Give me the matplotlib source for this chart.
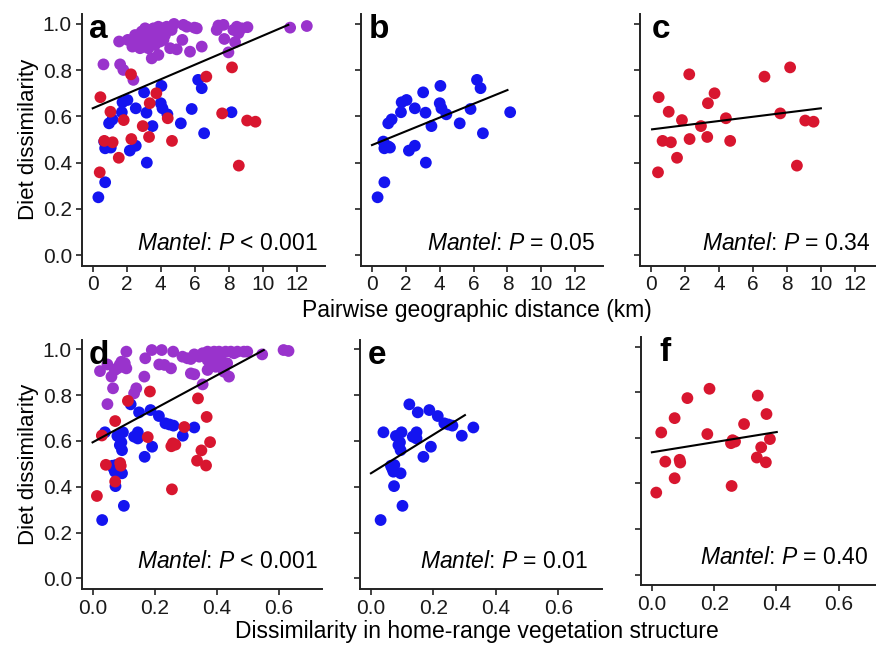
import matplotlib
matplotlib.use("Agg")
import matplotlib.pyplot as plt
import numpy as np

plt.rcParams['font.family'] = ['Liberation Sans', 'DejaVu Sans']
plt.rcParams['mathtext.fontset'] = 'custom'
plt.rcParams['mathtext.rm'] = 'Liberation Sans'
plt.rcParams['mathtext.it'] = 'Liberation Sans:italic'

PURPLE = '#9933cc'
BLUE = '#1414f0'
RED = '#d8162f'

# ---------------- geographic distance (km) ----------------
geo_blue_x = [0.33, 0.73, 0.73, 0.67, 1.06, 0.96, 1.16, 1.71, 1.75, 2.04, 2.53, 3.02, 3.16, 2.18,
              2.53, 3.18, 3.51, 4.04, 4.00, 4.10, 4.39, 5.18, 5.82, 6.20, 6.41, 6.55, 8.16, 0.96]
geo_blue_y = [0.250, 0.315, 0.462, 0.491, 0.465, 0.570, 0.587, 0.618, 0.661, 0.671, 0.635, 0.704,
              0.616, 0.452, 0.473, 0.400, 0.558, 0.732, 0.657, 0.635, 0.609, 0.570, 0.632, 0.758,
              0.722, 0.527, 0.618, 0.470]
geo_red_x = [0.45, 2.25, 1.04, 1.82, 3.35, 3.74, 0.68, 1.17, 2.27, 2.94, 3.31, 1.53, 0.41, 4.41,
             4.66, 6.68, 7.61, 8.19, 9.08, 9.57, 8.59]
geo_red_y = [0.683, 0.782, 0.620, 0.584, 0.657, 0.700, 0.494, 0.488, 0.502, 0.558, 0.511, 0.421,
             0.358, 0.592, 0.494, 0.772, 0.613, 0.812, 0.582, 0.577, 0.387]
geo_purple_x = [2.88, 3.27, 3.57, 3.86, 4.06, 4.35, 4.78, 5.33, 5.53, 5.98, 6.12, 7.39, 7.69, 8.47,
                8.76, 9.10, 2.49, 2.68, 3.08, 3.37, 3.66, 3.96, 4.25, 1.55, 2.06, 2.33, 2.59, 2.98,
                3.27, 3.66, 3.96, 4.55, 4.94, 5.27, 5.72, 6.41, 7.74, 8.37, 8.27, 7.98, 3.47, 3.86,
                0.63, 1.61, 1.80, 2.39, 11.61, 12.59, 3.08, 4.64, 2.78, 4.16, 3.18, 2.49, 3.76,
                7.29, 8.57, 2.29]
geo_purple_y = [0.967, 0.974, 0.981, 0.988, 0.981, 0.988, 1.000, 0.996, 0.988, 0.984, 0.981, 0.993,
                0.996, 0.988, 0.981, 0.986, 0.952, 0.935, 0.945, 0.926, 0.941, 0.960, 0.952, 0.924,
                0.931, 0.902, 0.916, 0.902, 0.895, 0.909, 0.924, 0.895, 0.890, 0.931, 0.880, 0.902,
                0.935, 0.921, 0.974, 0.877, 0.851, 0.866, 0.825, 0.825, 0.801, 0.758, 0.984, 0.991,
                0.981, 0.974, 0.895, 0.931, 0.916, 0.926, 0.970, 0.974, 0.960, 0.926]

# ---------------- vegetation structure dissimilarity ----------------
veg_blue_x = [0.031, 0.101, 0.074, 0.068, 0.075, 0.072, 0.095, 0.040, 0.080, 0.098, 0.093, 0.095,
              0.134, 0.146, 0.146, 0.168, 0.192, 0.123, 0.150, 0.187, 0.214, 0.235, 0.261, 0.291,
              0.328, 0.088, 0.064, 0.248]
veg_blue_y = [0.255, 0.317, 0.403, 0.480, 0.495, 0.466, 0.459, 0.638, 0.622, 0.638, 0.594, 0.560,
              0.619, 0.638, 0.611, 0.531, 0.575, 0.760, 0.725, 0.735, 0.709, 0.677, 0.667, 0.623,
              0.659, 0.582, 0.492, 0.672]
veg_red_x = [0.014, 0.030, 0.043, 0.073, 0.073, 0.089, 0.091, 0.114, 0.178, 0.185, 0.256, 0.254,
             0.267, 0.296, 0.337, 0.340, 0.351, 0.368, 0.366, 0.379, 0.259]
veg_red_y = [0.360, 0.624, 0.496, 0.423, 0.687, 0.504, 0.492, 0.775, 0.617, 0.816, 0.389, 0.577,
             0.584, 0.661, 0.514, 0.786, 0.559, 0.705, 0.493, 0.595, 0.590]
veg_purple_x = [0.024, 0.048, 0.061, 0.080, 0.087, 0.098, 0.109, 0.109, 0.066, 0.048, 0.134, 0.141,
                0.167, 0.170, 0.191, 0.223, 0.215, 0.232, 0.253, 0.260, 0.290, 0.306, 0.317, 0.317,
                0.328, 0.344, 0.355, 0.355, 0.371, 0.371, 0.382, 0.392, 0.397, 0.408, 0.413, 0.418,
                0.429, 0.434, 0.440, 0.446, 0.467, 0.488, 0.499, 0.547, 0.616, 0.632, 0.072, 0.093,
                0.371, 0.392, 0.104, 0.397, 0.424, 0.456, 0.328]
veg_purple_y = [0.905, 0.934, 0.881, 0.917, 0.932, 0.924, 0.917, 0.990, 0.830, 0.761, 0.808, 0.830,
                0.881, 0.961, 0.997, 0.997, 0.934, 0.932, 0.917, 0.990, 0.968, 0.961, 0.958, 0.895,
                0.891, 0.968, 0.847, 0.983, 0.990, 0.910, 0.961, 0.990, 0.924, 0.990, 0.958, 0.917,
                0.990, 0.939, 0.881, 0.990, 0.990, 0.990, 0.990, 0.978, 0.997, 0.993, 0.910, 0.946,
                0.953, 0.946, 0.939, 0.975, 0.902, 0.983, 0.978]

# regression lines: (x start, x end, y start, y end)
line_a = [0.0, 11.5, 0.635, 0.996]
line_b = [0.0, 8.0, 0.476, 0.714]
line_c = [0.06, 10.0, 0.544, 0.635]
line_d = [0.0, 0.552, 0.594, 0.997]
line_e = [0.0, 0.301, 0.459, 0.713]
line_f = [0.0, 0.401, 0.537, 0.626]

mantel_labels = ['< 0.001', '= 0.05', '= 0.34', '< 0.001', '= 0.01', '= 0.40']
panel_letters = ['a', 'b', 'c', 'd', 'e', 'f']
geo_ticks = [0, 2, 4, 6, 8, 10, 12]
veg_ticks = [0.0, 0.2, 0.4, 0.6]
y_ticks = [0.0, 0.2, 0.4, 0.6, 0.8, 1.0]

W, H = 876, 646
fig = plt.figure(figsize=(W / 100, H / 100), dpi=100)


def add_ax(left, top, right, bottom):
    return fig.add_axes([left / W, 1 - bottom / H, (right - left) / W, (bottom - top) / H])


axes = [
    add_ax(81.7, 14, 325, 265.7),
    add_ax(361, 14, 603.3, 265.7),
    add_ax(640, 14, 883, 265.7),
    add_ax(81.7, 339.5, 321.7, 589),
    add_ax(360, 339.5, 601.7, 589),
    add_ax(641, 337.1, 882, 585),
]

series = [
    [(geo_purple_x, geo_purple_y, PURPLE), (geo_blue_x, geo_blue_y, BLUE), (geo_red_x, geo_red_y, RED)],
    [(geo_blue_x, geo_blue_y, BLUE)],
    [(geo_red_x, geo_red_y, RED)],
    [(veg_purple_x, veg_purple_y, PURPLE), (veg_blue_x, veg_blue_y, BLUE), (veg_red_x, veg_red_y, RED)],
    [(veg_blue_x, veg_blue_y, BLUE)],
    [(veg_red_x, veg_red_y, RED)],
]
lines = [line_a, line_b, line_c, line_d, line_e, line_f]
text_pos = [(0.972, 0.09), (0.966, 0.09), (0.947, 0.09), (0.985, 0.11), (0.943, 0.11), (0.942, 0.11)]
letter_pos = [0.03, 0.03, 0.05, 0.03, 0.03, 0.075]

for i, ax in enumerate(axes):
    for xs, ys, c in series[i]:
        ax.scatter(xs, ys, s=72, color=c, edgecolors='none', zorder=2)
    ln = lines[i]
    ax.plot([ln[0], ln[1]], [ln[2], ln[3]], color='black', lw=1.5, zorder=3)
    ax.set_ylim(-0.046, 1.043)
    ax.set_yticks(y_ticks)
    if i < 3:
        ax.set_xlim(-0.65, 13.66)
        ax.set_xticks(geo_ticks)
        ax.set_xticklabels([str(t) for t in geo_ticks])
    else:
        ax.set_xlim(-0.035, 0.739)
        ax.set_xticks(veg_ticks)
        ax.set_xticklabels(['%.1f' % t for t in veg_ticks])
    if i in (0, 3):
        ax.set_yticklabels(['%.1f' % t for t in y_ticks])
        ax.set_ylabel('Diet dissimilarity', fontsize=16, labelpad=3)
    else:
        ax.set_yticklabels([])
    for s in ('top', 'right'):
        ax.spines[s].set_visible(False)
    for s in ('left', 'bottom'):
        ax.spines[s].set_linewidth(1.4)
        ax.spines[s].set_color('#222222')
    ax.tick_params(direction='out', length=4, width=1.2, color='#222222', labelsize=15,
                   labelcolor='#1a1a1a', pad=3)
    ax.text(letter_pos[i], 1.0, panel_letters[i], transform=ax.transAxes, fontsize=24,
            fontweight='bold', ha='left', va='top')
    tx, ty = text_pos[i]
    ax.text(tx, ty, r'$\mathit{Mantel}$: $\mathit{P}$ ' + mantel_labels[i], transform=ax.transAxes,
            fontsize=16.5, ha='right', va='center')

fig.text(477 / W, 1 - 311 / H, 'Pairwise geographic distance (km)', fontsize=16.5,
         ha='center', va='center')
fig.text(477 / W, 1 - 643 / H, 'Dissimilarity in home-range vegetation structure', fontsize=16.5,
         ha='center', va='bottom')

fig.savefig('out.png', dpi=100)
